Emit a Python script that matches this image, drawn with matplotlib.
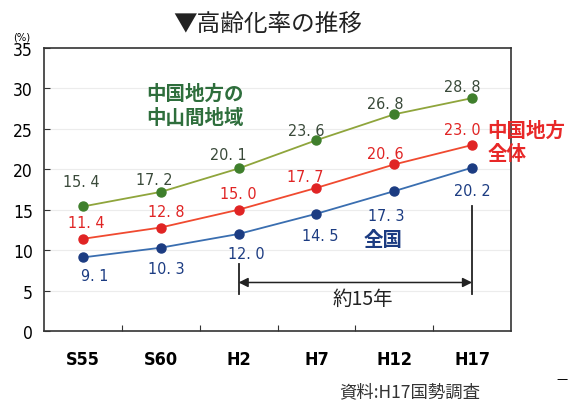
import numpy as np
import matplotlib.pyplot as plt

plt.rcParams['font.family'] = ['Noto Sans CJK JP', 'DejaVu Sans']

years = ["S55", "S60", "H2", "H7", "H12", "H17"]
sankan = [15.4, 17.2, 20.1, 23.6, 26.8, 28.8]     # 中国地方の中山間地域
chugoku = [11.4, 12.8, 15.0, 17.7, 20.6, 23.0]    # 中国地方全体
zenkoku = [9.1, 10.3, 12.0, 14.5, 17.3, 20.2]     # 全国
yticks = [0, 5, 10, 15, 20, 25, 30, 35]

# label offsets in pixels (dx, dy up)
off_g = [(-2, 25), (-7, 12), (-10, 14), (-10, 10), (-9, 11), (-10, 12)]
off_r = [(3, 16), (6, 16), (0, 16), (-11, 11), (-9, 11), (-10, 16)]
off_b = [(12, -18), (6, -21), (8, -20), (4, -22), (-8, -24), (0, -23)]

num = dict(family='DejaVu Sans', fontstretch='condensed')

fig = plt.figure(figsize=(5.77, 4.02), dpi=100)
ax = fig.add_axes([44 / 577, 1 - 332 / 402, (511 - 44) / 577, (332 - 49) / 402])
x = np.arange(len(years))

series = [
    (sankan, '#8fa53c', '#3f7f2c', '#3a4a3a', off_g),
    (chugoku, '#f04a30', '#e02424', '#e02424', off_r),
    (zenkoku, '#3a6eb0', '#1c3c82', '#1c3c82', off_b),
]
for vals, lc, mc, tc, offs in series:
    ax.plot(x, vals, color=lc, lw=1.3, zorder=3)
    ax.plot(x, vals, 'o', color=mc, ms=6.5, zorder=4)
    for xi, v, (dx, dy) in zip(x, vals, offs):
        ax.annotate(f"{v:.1f}".replace(".", ". "), (xi, v), xytext=(dx, dy),
                    textcoords='offset pixels', ha='center', va='center',
                    fontsize=11.5, color=tc, **num)

ax.set_xlim(-0.5, 5.5)
ax.set_ylim(0, 35)
ax.set_yticks(yticks)
ax.set_yticklabels([str(t) for t in yticks], fontsize=12.5, **num)
ax.set_xticks(np.arange(0.5, 5, 1))
ax.set_xticks(x, minor=True)
ax.set_xticklabels([])
ax.tick_params(axis='x', which='major', direction='in', length=4, color='#333333')
ax.tick_params(axis='x', which='minor', length=0, pad=14)
ax.set_xticklabels(years, minor=True, fontsize=13, fontweight='bold', **num)
ax.tick_params(axis='y', direction='in', length=4, pad=8, color='#333333')
for y in yticks[1:-1]:
    ax.axhline(y, color='#ececec', lw=0.8, zorder=1)
for s in ax.spines.values():
    s.set_color('#333333')
    s.set_linewidth(1.2)

# labels of the series
ax.text(1.44, 27.9, "中国地方の\n中山間地域", color='#2e6e3c', fontsize=14,
        fontweight='bold', ha='center', va='center', linespacing=1.35)
ax.text(5.2, 23.4, "中国地方\n全体", color='#e82828', fontsize=14,
        fontweight='bold', ha='left', va='center', linespacing=1.3, clip_on=False)
ax.text(3.86, 11.3, "全国", color='#1c3c82', fontsize=14, fontweight='bold',
        ha='center', va='center')

# about 15 years arrow
ax.plot([2, 2], [4.6, 8.3], color='#222222', lw=1.3)
ax.plot([5, 5], [4.6, 15.5], color='#222222', lw=1.3)
ax.annotate("", xy=(2, 6.0), xytext=(5, 6.0),
            arrowprops=dict(arrowstyle='<|-|>', color='#222222', lw=1.1,
                            shrinkA=0, shrinkB=0, mutation_scale=14))
ax.text(3.6, 4.0, "約15年", fontsize=14, ha='center', va='center', color='#222222')

fig.text(268 / 577, 1 - 24 / 402, "▼高齢化率の推移", fontsize=17, ha='center',
         va='center', color='#222222')
fig.text(22 / 577, 1 - 37 / 402, "(%)", fontsize=8, ha='center', va='center', **num)
fig.text(410 / 577, 1 - 392 / 402, "資料:H17国勢調査", fontsize=12.5, ha='center',
         va='center', color='#333333')
fig.text(562 / 577, 1 - 380 / 402, "—", fontsize=9, ha='center', va='center')

fig.savefig("out.png", dpi=100)
